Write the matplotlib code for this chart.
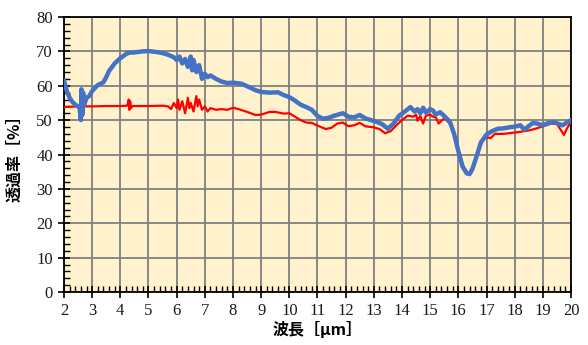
import numpy as np
import matplotlib
matplotlib.use("Agg")
import matplotlib.pyplot as plt
from matplotlib.ticker import MultipleLocator

# blue (thick) curve: wavelength [um], transmittance [%]
blue_x = [2.0, 2.1, 2.2, 2.3, 2.4, 2.5, 2.55, 2.6, 2.62, 2.65, 2.68, 2.72, 2.8, 2.9,
          3.0, 3.2, 3.4, 3.5, 3.6, 3.8, 4.0, 4.2, 4.3, 4.5, 4.8, 5.0, 5.3, 5.5, 5.7,
          5.9, 6.0, 6.1, 6.2, 6.3, 6.4, 6.5, 6.55, 6.6, 6.7, 6.8, 6.9, 7.0, 7.1, 7.2,
          7.4, 7.6, 7.8, 8.0, 8.3, 8.6, 8.8, 9.0, 9.3, 9.6, 9.8, 10.0, 10.2, 10.4,
          10.6, 10.8, 11.0, 11.2, 11.4, 11.6, 11.9, 12.1, 12.3, 12.5, 12.7, 12.9,
          13.1, 13.3, 13.5, 13.7, 13.9, 14.1, 14.3, 14.45, 14.55, 14.65, 14.75,
          14.85, 15.0, 15.1, 15.2, 15.35, 15.5, 15.7, 15.85, 16.0, 16.15, 16.3,
          16.4, 16.5, 16.65, 16.8, 17.0, 17.2, 17.4, 17.6, 17.8, 18.0, 18.2, 18.35,
          18.5, 18.65, 18.8, 19.0, 19.2, 19.4, 19.6, 19.7, 19.85, 20.0]
blue_y = [61.5, 58.5, 56.5, 55.3, 54.5, 54.0, 53.8, 50.0, 59.0, 51.5, 58.0, 54.5, 56.5, 57.0,
          58.5, 60.2, 61.0, 62.5, 64.3, 66.5, 68.0, 69.2, 69.6, 69.7, 70.0, 70.1, 69.8, 69.5, 69.0,
          68.3, 67.5, 68.5, 66.5, 67.8, 65.5, 68.5, 64.5, 67.5, 64.0, 66.0, 62.0, 63.5, 62.5, 63.0,
          62.0, 61.2, 60.8, 60.9, 60.6, 59.5, 58.7, 58.2, 58.0, 58.1, 57.3, 56.7, 55.7, 54.5,
          53.8, 53.0, 51.2, 50.4, 50.7, 51.3, 52.0, 51.0, 50.8, 51.5, 50.5, 50.0,
          49.5, 48.8, 47.5, 49.0, 51.3, 52.5, 53.8, 52.5, 53.2, 52.0, 53.6,
          52.2, 53.2, 52.8, 51.6, 52.3, 51.2, 49.5, 46.0, 41.0, 36.5, 34.5,
          34.3, 35.8, 39.5, 43.5, 45.8, 46.8, 47.5, 47.6, 47.9, 48.1, 48.5, 47.2,
          48.3, 49.2, 49.0, 48.5, 49.2, 49.4, 48.8, 48.5, 49.3, 50.0]

# red (thin) curve
red_x = [2.0, 2.5, 3.0, 3.5, 4.0, 4.25, 4.3, 4.32, 4.35, 4.38, 4.42, 5.0, 5.5, 5.7, 5.8,
         5.9, 6.0, 6.05, 6.1, 6.2, 6.3, 6.4, 6.45, 6.5, 6.6, 6.7, 6.75, 6.8, 6.9, 7.0,
         7.1, 7.2, 7.4, 7.6, 7.8, 8.0, 8.2, 8.5, 8.8, 9.0, 9.3, 9.5, 9.8, 10.0, 10.2,
         10.4, 10.6, 10.8, 11.0, 11.3, 11.5, 11.7, 11.9, 12.1, 12.3, 12.5, 12.7, 13.0,
         13.2, 13.4, 13.6, 13.8, 14.0, 14.2, 14.4, 14.5, 14.55, 14.65, 14.75, 14.85,
         15.0, 15.1, 15.2, 15.3, 15.4, 15.5, 15.6, 15.75, 15.9, 16.05, 16.2, 16.35,
         16.45, 16.55, 16.7, 16.85, 17.0, 17.15, 17.3, 17.6, 17.9, 18.2, 18.5, 18.7,
         19.0, 19.3, 19.5, 19.65, 19.75, 19.85, 20.0]
red_y = [53.8, 54.0, 54.0, 54.1, 54.1, 54.2, 56.0, 53.0, 55.5, 53.5, 54.1, 54.1, 54.2, 54.0, 53.2,
         55.0, 53.5, 56.0, 53.0, 55.5, 52.0, 56.5, 53.5, 55.0, 52.5, 57.0, 54.0, 56.0, 53.0, 54.0,
         52.5, 53.5, 53.0, 53.2, 53.0, 53.6, 53.2, 52.4, 51.5, 51.6, 52.4, 52.4, 51.9, 52.0, 51.0,
         50.0, 49.3, 49.2, 48.4, 47.4, 47.8, 49.0, 49.3, 48.2, 48.5, 49.2, 48.2, 47.9,
         47.4, 46.2, 46.8, 48.5, 50.0, 51.3, 51.0, 51.6, 49.8, 51.2, 49.0, 51.3,
         51.6, 51.0, 50.8, 49.0, 49.8, 50.5, 49.8, 48.5, 45.0, 40.0, 36.0, 34.5,
         34.6, 36.5, 40.5, 44.0, 45.0, 44.8, 46.0, 46.0, 46.3, 46.6, 47.0, 47.4,
         48.2, 49.0, 48.9, 47.0, 45.7, 47.5, 49.5]

fig = plt.figure(figsize=(5.88, 3.45), dpi=100)
ax = fig.add_axes([0.1088, 0.1536, 0.8623, 0.7971])
ax.set_facecolor('#FFF2CC')

ax.plot(red_x, red_y, color='#FF0000', lw=1.6, zorder=3)
ax.plot(blue_x, blue_y, color='#4472C4', lw=3.2, zorder=4)

ax.set_xlim(2, 20)
ax.set_ylim(0, 80)
ax.xaxis.set_major_locator(MultipleLocator(1))
ax.xaxis.set_minor_locator(MultipleLocator(0.2))
ax.yaxis.set_major_locator(MultipleLocator(10))
ax.yaxis.set_minor_locator(MultipleLocator(2))
ax.grid(True, which='major', color='#7F7F7F', lw=1.3, zorder=1)
ax.set_axisbelow(True)

ax.tick_params(which='major', direction='inout', length=9, width=1.2, color='black')
ax.tick_params(which='minor', direction='in', length=4, width=1.0, color='black')
for lab in ax.get_xticklabels() + ax.get_yticklabels():
    lab.set_fontfamily('Liberation Serif')
    lab.set_fontsize(12)
    lab.set_color('#1a1a1a')
for s in ax.spines.values():
    s.set_color('black')
    s.set_linewidth(1.3)

cjk = ['Noto Sans CJK JP', 'DejaVu Sans']
ax.set_xlabel('波長［μm］', family=cjk, fontsize=11.5, fontweight='bold', labelpad=1)
ax.set_ylabel('透過率［%］', family=cjk, fontsize=11.5, fontweight='bold', labelpad=10)

fig.savefig('out.png', dpi=100)
